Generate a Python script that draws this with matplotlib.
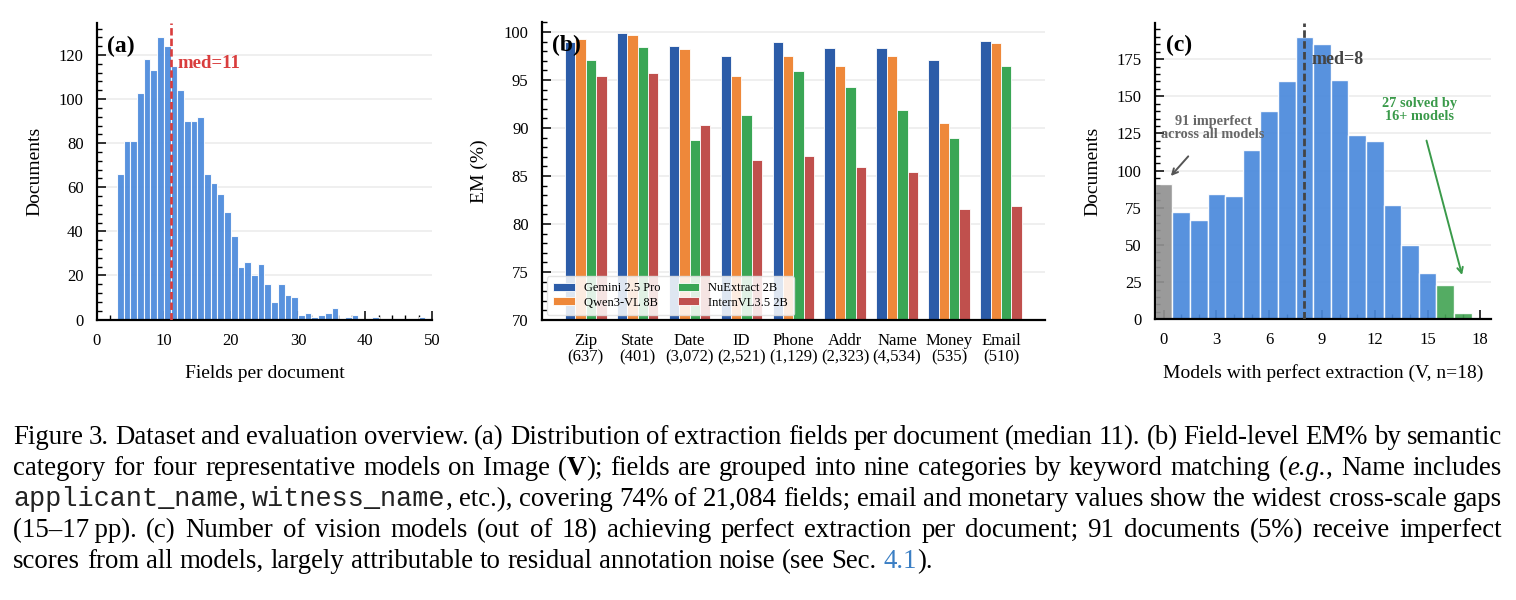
import matplotlib
matplotlib.use('Agg')
import matplotlib.pyplot as plt
from matplotlib.ticker import MultipleLocator
from matplotlib.transforms import IdentityTransform

plt.rcParams['font.family'] = ['Liberation Serif', 'DejaVu Serif']
plt.rcParams['mathtext.fontset'] = 'stix'

##############################################################################
# (a) fields per document, integer bins starting at 3
field_bins = list(range(3, 49))
field_counts = [66, 81, 81, 103, 118, 113, 128, 124, 115, 104, 90, 90, 92, 66, 62, 57, 49, 38,
                24, 26, 20, 25, 16, 8, 16, 11, 10,
                2, 3, 1, 2, 3, 5, 0, 1, 2, 0, 0, 1,
                0, 0, 0, 0, 0, 0, 1]
fields_median = 11

# (b) field-level EM% by category
categories = ['Zip', 'State', 'Date', 'ID', 'Phone', 'Addr', 'Name', 'Money', 'Email']
category_sizes = ['637', '401', '3,072', '2,521', '1,129', '2,323', '4,534', '535', '510']
models = ['Gemini 2.5 Pro', 'Qwen3-VL 8B', 'NuExtract 2B', 'InternVL3.5 2B']
em_gemini = [99.0, 99.9, 98.5, 97.5, 99.0, 98.3, 98.3, 97.1, 99.1]
em_qwen = [99.3, 99.7, 98.2, 95.4, 97.5, 96.5, 97.5, 90.5, 98.8]
em_nuextract = [97.1, 98.4, 88.7, 91.3, 95.9, 94.3, 91.9, 88.9, 96.4]
em_internvl = [95.4, 95.7, 90.3, 86.7, 87.1, 85.9, 85.4, 81.6, 81.9]
model_colors = ['#2c5ca8', '#ee883a', '#3aa655', '#c0504d']

# (c) documents by number of models with perfect extraction
n_perfect = list(range(0, 18))
docs_count = [91, 72, 67, 84, 83, 114, 140, 160, 190, 185, 161, 124, 120, 77, 50, 31, 23, 4]
perfect_median = 8
##############################################################################

W, H = 1516, 600
fig = plt.figure(figsize=(W / 100, H / 100), dpi=100)

BLUE = '#4a89dc'
RED = '#d93d3d'


def add_axes_px(left, top, width, height):
    return fig.add_axes([left / W, 1 - (top + height) / H, width / W, height / H])


def style(ax):
    for s in ['top', 'right']:
        ax.spines[s].set_visible(False)
    for s in ['left', 'bottom']:
        ax.spines[s].set_linewidth(1.6)
    ax.tick_params(which='both', direction='in', labelsize=12, pad=9.5)
    ax.tick_params(which='major', length=6.5, width=1.1)
    ax.tick_params(which='minor', length=3.5, width=1.0)
    ax.grid(axis='y', which='major', color='#ececec', linewidth=1.2)
    ax.set_axisbelow(True)


# ---------------- (a) ----------------
axa = add_axes_px(96.7, 23.3, 335.5, 296.2)
style(axa)
axa.bar(field_bins, field_counts, width=1, align='edge', color=BLUE, alpha=0.92,
        edgecolor='white', linewidth=0.8)
axa.axvline(fields_median, color=RED, lw=1.9, ls=(0, (2.8, 1.2)), zorder=3)
axa.text(12.0, 116, 'med=%d' % fields_median, color=RED, fontsize=13.5, fontweight='bold', va='center')
axa.set_xlim(0, 50)
axa.set_ylim(0, 134.4)
axa.xaxis.set_major_locator(MultipleLocator(10))
axa.xaxis.set_minor_locator(MultipleLocator(2))
axa.yaxis.set_major_locator(MultipleLocator(20))
axa.yaxis.set_minor_locator(MultipleLocator(4))
axa.set_xlabel('Fields per document', fontsize=14)
axa.set_ylabel('Documents', fontsize=14)
axa.text(0.03, 0.923, '(a)', transform=axa.transAxes, fontsize=17, fontweight='bold', va='center')

# ---------------- (b) ----------------
axb = add_axes_px(541.7, 22.3, 503.3, 297.7)
style(axb)
xs = list(range(len(categories)))
series = [em_gemini, em_qwen, em_nuextract, em_internvl]
bw = 0.2
for i, (vals, name) in enumerate(zip(series, models)):
    axb.bar([x + (i - 1.5) * bw for x in xs], vals, width=bw, color=model_colors[i],
            edgecolor='white', linewidth=0.6, label=name)
axb.set_xlim(-0.85, 8.85)
axb.set_ylim(70, 101)
axb.yaxis.set_major_locator(MultipleLocator(5))
axb.yaxis.set_minor_locator(MultipleLocator(1))
axb.set_xticks(xs)
axb.set_xticklabels(['%s\n(%s)' % (c, n) for c, n in zip(categories, category_sizes)])
for lab in axb.get_xticklabels():
    lab.set_linespacing(1.05)
axb.set_ylabel('EM (%)', fontsize=14)
axb.legend(loc='lower left', ncol=2, fontsize=9, framealpha=0.85, edgecolor='#e0e0e0',
           handlelength=1.75, handleheight=0.6, handletextpad=0.7, labelspacing=0.2,
           columnspacing=1.4, borderaxespad=0.4, borderpad=0.5)
axb.text(0.02, 0.922, '(b)', transform=axb.transAxes, fontsize=17, fontweight='bold', va='center')

# ---------------- (c) ----------------
axc = add_axes_px(1154.9, 22.7, 336, 296.6)
style(axc)
bar_colors = ['#929292' if n == 0 else ('#45a556' if n >= 16 else BLUE) for n in n_perfect]
axc.bar(n_perfect, docs_count, width=1, color=bar_colors, alpha=0.92,
        edgecolor='white', linewidth=1.0)
axc.axvline(perfect_median, color='#444444', lw=2.0, ls=(0, (2.7, 1.2)), zorder=3)
axc.text(8.4, 174.5, 'med=%d' % perfect_median, color='#444444', fontsize=13,
         fontweight='bold', va='center')
axc.text(2.8, 129, '91 imperfect\nacross all models', color='#666666', fontsize=10.3,
         fontweight='bold', ha='center', va='center', linespacing=1.0)
axc.annotate('', xy=(0.3, 95), xytext=(1.5, 111),
             arrowprops=dict(arrowstyle='->', color='#555555', lw=1.4))
axc.text(14.53, 141, '27 solved by\n16+ models', color='#3a9a4a', fontsize=10.3,
         fontweight='bold', ha='center', va='center', linespacing=1.0)
axc.annotate('', xy=(17.0, 28), xytext=(14.9, 122),
             arrowprops=dict(arrowstyle='->', color='#3a9a4a', lw=1.4))
axc.set_xlim(-0.5, 18.6)
axc.set_ylim(0, 199.5)
axc.xaxis.set_major_locator(MultipleLocator(3))
axc.xaxis.set_minor_locator(MultipleLocator(1))
axc.yaxis.set_major_locator(MultipleLocator(25))
axc.yaxis.set_minor_locator(MultipleLocator(5))
axc.set_xlabel('Models with perfect extraction (V, n=18)', fontsize=14)
axc.set_ylabel('Documents', fontsize=14)
axc.text(0.032, 0.922, '(c)', transform=axc.transAxes, fontsize=17, fontweight='bold', va='center')

# label positions (about 62 px left of the spine, 53 px below the axis)
for ax, wpx, hpx in [(axa, 335.5, 296.2), (axb, 503.3, 297.7), (axc, 336, 296.6)]:
    ax.yaxis.set_label_coords(-62 / wpx, 0.5)
    ax.yaxis.label.set_va('center')
    ax.xaxis.set_label_coords(0.5, -53.5 / hpx)
    ax.xaxis.label.set_va('center')

# ---------------- caption (justified) ----------------
caption_lines = [
    [("Figure 3. Dataset and evaluation overview. (a) Distribution of extraction fields per document "
      "(median 11). (b) Field-level EM% by semantic", 'rm')],
    [("category for four representative models on Image (", 'rm'), ("V", 'bf'),
     ("); fields are grouped into nine categories by keyword matching (", 'rm'), ("e.g.", 'it'),
     (", Name includes", 'rm')],
    [("applicant_name", 'tt'), (", ", 'rm'), ("witness_name", 'tt'),
     (", etc.), covering 74% of 21,084 fields; email and monetary values show the widest "
      "cross-scale gaps", 'rm')],
    [("(15\u201317\u2009pp).  (c) Number of vision models (out of 18) achieving perfect extraction "
      "per document; 91 documents (5%) receive imperfect", 'rm')],
    [("scores from all models, largely attributable to residual annotation noise (see Sec. ", 'rm'),
     ("4.1", 'link'), (").", 'rm')],
]
serif = ['Liberation Serif', 'DejaVu Serif']
cap_styles = {
    'rm': dict(family=serif),
    'bf': dict(family=serif, fontweight='bold'),
    'it': dict(family=serif, fontstyle='italic'),
    'tt': dict(family=['Liberation Mono', 'DejaVu Sans Mono'], color='#222222'),
    'link': dict(family=serif, color='#3b7fc4'),
}
cap_size = 19.4
x_left, x_right = 13, 1502
baselines = [444, 475, 506, 537, 568]

renderer = fig.canvas.get_renderer()


def text_width(t):
    return t.get_window_extent(renderer).width


def split_words(line):
    words, cur = [], []
    for txt, st in line:
        for i, p in enumerate(txt.split(' ')):
            if i > 0 and cur:
                words.append(cur)
                cur = []
            if p:
                cur.append((p, st))
    if cur:
        words.append(cur)
    return words


p1 = fig.text(0, 0, 'a a', fontsize=cap_size, **cap_styles['rm'])
p2 = fig.text(0, 0, 'aa', fontsize=cap_size, **cap_styles['rm'])
space_w = text_width(p1) - text_width(p2)
p1.remove()
p2.remove()

for k, line in enumerate(caption_lines):
    words = split_words(line)
    pieces, widths = [], []
    for w in words:
        ws = []
        for txt, st in w:
            t = fig.text(0, 0, txt, fontsize=cap_size, va='baseline',
                         transform=IdentityTransform(), **cap_styles[st])
            ws.append((t, text_width(t)))
        pieces.append(ws)
        widths.append(sum(b for _, b in ws))
    if k < len(caption_lines) - 1:
        gap = (x_right - x_left - sum(widths)) / (len(words) - 1)
    else:
        gap = space_w
    x = x_left
    for ws in pieces:
        for t, b in ws:
            t.set_position((x, H - baselines[k]))
            x += b
        x += gap

fig.savefig('out.png', dpi=100)
